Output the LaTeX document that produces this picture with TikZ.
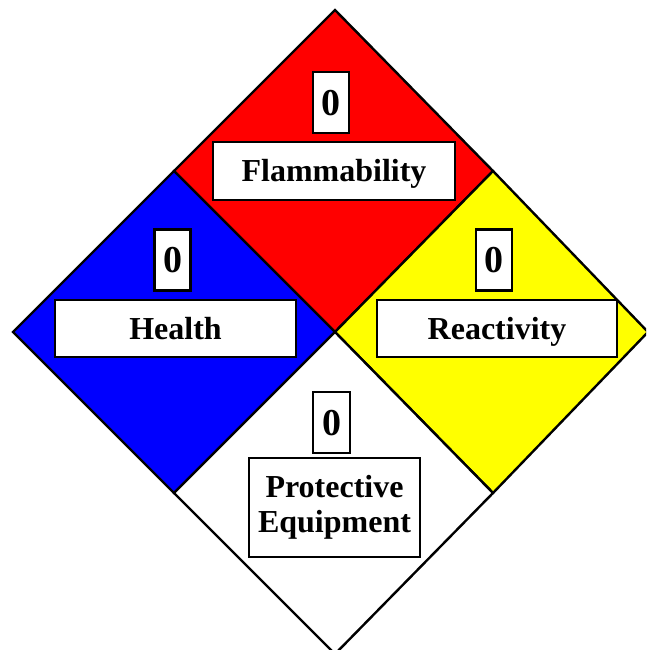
\documentclass[tikz,border=0pt]{standalone}
\usepackage{fontspec}
\setmainfont{Liberation Serif}
\definecolor{nred}{RGB}{255,0,0}
\definecolor{nblue}{RGB}{0,0,255}
\definecolor{nyellow}{RGB}{255,255,0}
\begin{document}
\begin{tikzpicture}[x=1pt,y=-1pt,
  quad/.style={draw=black, line width=2.4pt, line join=miter},
  numbox/.style={draw=black, fill=white, line width=2.2pt, minimum width=36pt, minimum height=61pt, inner sep=0pt, text height=25.5pt, text depth=0pt, font=\bfseries\fontsize{38}{42}\selectfont},
  boxbase/.style={draw=black, fill=white, line width=2.2pt, inner sep=0pt, minimum height=57pt, font=\bfseries\fontsize{32}{35.5}\selectfont, align=center},
  labbox/.style={boxbase, text height=21pt, text depth=0pt}]
\useasboundingbox (0,0) rectangle (646,650);
\clip (0,0) rectangle (646,650);
\coordinate (T) at (335,10);
\coordinate (L) at (13,332);
\coordinate (B) at (335,654);
\coordinate (R) at (648,332);
\coordinate (C) at (335,332);
\coordinate (TL) at (174,171);
\coordinate (TR) at (493,171);
\coordinate (BL) at (174,493);
\coordinate (BR) at (493,493);
\path[quad, fill=nred] (T) -- (TR) -- (C) -- (TL) -- cycle;
\path[quad, fill=nblue] (L) -- (TL) -- (C) -- (BL) -- cycle;
\path[quad, fill=nyellow] (R) -- (BR) -- (C) -- (TR) -- cycle;
\path[quad, fill=white] (B) -- (BL) -- (C) -- (BR) -- cycle;
\node[numbox] (fnum) at (331,102.5) {0};
\node[labbox, minimum width=242pt, minimum height=58pt] (flab) at (334,171) {Flammability};
\node[numbox] (hnum) at (172.5,260) {0};
\node[labbox, minimum width=241pt] (hlab) at (175.5,328.5) {Health};
\node[numbox] (rnum) at (494,260) {0};
\node[labbox, minimum width=240pt] (rlab) at (497,328.5) {Reactivity};
\node[numbox, minimum width=37pt] (pnum) at (331.5,422.5) {0};
\node[boxbase, minimum width=171pt, minimum height=99pt] (plab) at (334.5,507.5) {Protective\\Equipment};
\end{tikzpicture}
\end{document}
